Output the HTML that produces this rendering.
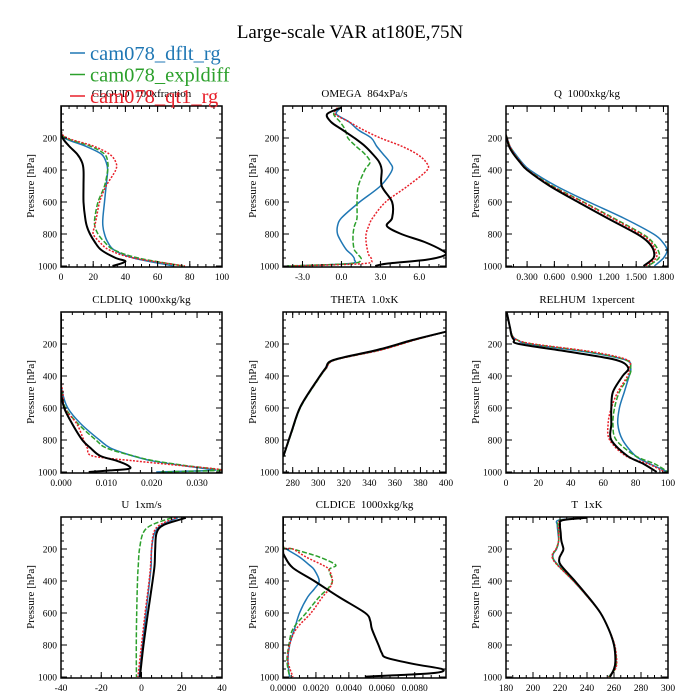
<!DOCTYPE html>
<html><head><meta charset="utf-8">
<style>
body{margin:0;background:#fff;}
svg{display:block;font-family:"Liberation Serif",serif;}
</style></head>
<body>
<svg id="chart" width="700" height="700" viewBox="0 0 700 700">
<text x="350" y="38" font-size="19" text-anchor="middle">Large-scale VAR at180E,75N</text>
</svg>
<script>
// ---- data (pressure levels hPa, values) ----
const cloudLev=[5,150,200,250,300,350,400,500,600,700,750,800,850,900,950,1000];
const cloudBlackLev=[5,150,200,250,300,350,400,500,600,700,750,800,850,900,950,972,1000];
const cloudBlackVal=[0,0,1,5,10,13,14,14,14,15,16,18,21,25,34,40,32];
const cloudBlue=[0,0,2,15,25,28,29,28,27,26,26,27,29,33,45,70];
const cloudGreen=[0,0,3,18,27,29,29,27,23,21,21,23,27,33,48,76];
const cloudRed=[0,0,4,20,30,34,34,28,24,22,21,20,24,30,45,77];

const omegaLev=[10,50,100,150,200,250,300,350,400,500,600,700,750,800,850,900,930,960,985,1000];
const omegaBlack=[0,-1.1,-0.8,0.1,1.0,1.8,2.4,2.9,3.1,3.1,3.9,3.9,3.5,4.6,6.4,7.7,8.0,6.6,3.5,2.6];
const omegaBlue=[0,-0.4,0.6,1.3,2.3,2.7,3.2,3.7,3.9,3.0,1.4,0.0,-0.3,-0.3,0.0,0.4,0.8,1.0,0.6,-3.9];
const omegaGreen=[-0.2,-0.6,-0.1,0.3,0.5,1.1,1.8,2.2,1.8,1.3,1.2,1.2,1.0,0.9,0.9,1.0,1.3,1.5,0.7,-4.2];
const omegaRed=[-0.3,-0.5,0.6,1.7,3.0,4.6,5.8,6.5,6.6,5.1,3.4,2.4,2.1,1.9,1.9,2.0,2.1,2.3,1.7,-3.9];

const qLev=[10,100,200,250,300,350,400,500,600,700,800,850,900,950,1000];
const qBlack=[0,0.02,0.075,0.1,0.15,0.22,0.30,0.55,0.86,1.18,1.51,1.63,1.69,1.69,1.58];
const qBlue=[0,0.02,0.08,0.11,0.17,0.24,0.33,0.62,0.98,1.36,1.69,1.79,1.84,1.80,1.70];
const qGreen=[0,0.02,0.08,0.11,0.16,0.23,0.31,0.58,0.92,1.25,1.57,1.68,1.74,1.75,1.63];
const qRed=[0,0.02,0.08,0.11,0.16,0.23,0.31,0.57,0.91,1.23,1.55,1.66,1.71,1.72,1.60];

const liqLev=[10,400,500,600,700,800,850,900,930,960,980,990,1000];
const liqBlack=[0,0,0,0.0007,0.0025,0.0047,0.0065,0.0087,0.0123,0.0148,0.0150,0.0109,0.0061];
const liqBlue=[0,0,0.0003,0.0015,0.0044,0.0085,0.0109,0.0159,0.0200,0.0270,0.0320,0.0334,0.0210];
const liqGreen=[0,0,0.0002,0.0010,0.0038,0.0077,0.0100,0.0160,0.0205,0.0275,0.0335,0.0350,0.0220];
const liqRed=[0,0,0.0004,0.0008,0.0035,0.0050,0.0058,0.0070,0.0160,0.0265,0.0340,0.0355,0.0360];

const thetaLev=[123,175,237,300,352,425,592,750,904];
const thetaBlack=[400,373.8,346.4,311.9,305.7,299.2,286,279,272.6];
const thetaBlue=[400,375,348.5,312.8,306.2,299.6,286.3,279.2,272.7];
const thetaGreen=[400,375.3,349,313,306.3,299.7,286.4,279.3,272.8];
const thetaRed=[400,375.6,349.5,313.2,306.2,299.5,286.2,279.1,272.6];

const rhLev=[5,50,100,150,175,200,250,300,350,400,500,600,700,800,900,950,1000];
const rhBlack=[0.5,1.5,2.5,3.5,5,8,40,68,75.5,72,66,65,65,65,75,85,93];
const rhBlue=[0.5,1.5,2.5,4,7,14,50,74,77,76,73,70,69,72,80,89,100];
const rhGreen=[0.5,1.5,2.5,4,7,16,52,74,77,76,70,67,66,68,80,92,100];
const rhRed=[0.5,1.5,2.5,4,7,17,54,75,76,75,69,65,63,64,74,88,98];

const uLev=[5,50,100,200,300,400,600,800,1000];
const uBlack=[22,11,7.5,6.8,6.5,5.5,3.2,1,-0.8];
const uBlue=[18,10,6.5,5,4.8,4,2.2,0.5,-1.2];
const uGreen=[15,5,0.8,-1.0,-1.6,-2.0,-2.4,-2.6,-2.5];
const uRed=[17,9,6,5,4.5,3.8,1.8,0,-1.8];

const iceLev=[5,180,200,250,300,330,400,450,500,600,700,800,900,1000];
const iceBlue=[0,0,0.0002,0.0010,0.0016,0.0019,0.0022,0.0019,0.0015,0.0010,0.0007,0.0004,0.0003,0.0004];
const iceGreen=[0,0,0.0006,0.0022,0.0032,0.0028,0.0030,0.0027,0.0022,0.0014,0.0006,0.00036,0.00024,0.0004];
const iceRed=[0,0,0.0006,0.0014,0.0024,0.0028,0.0030,0.0028,0.0024,0.0017,0.0008,0.0004,0.0003,0.0006];
const iceBlackLev=[5,200,245,318,400,500,600,650,700,800,850,880,920,952,977,998];
const iceBlack=[0,0,0.0001,0.0006,0.0019,0.0034,0.0050,0.0053,0.0054,0.0058,0.0060,0.0063,0.0080,0.0097,0.0090,0.0050];

const tLev=[5,20,50,100,150,200,230,260,300,400,500,600,700,800,900,950,1000];
const tBlack=[240,222,220,220.5,221,222.5,221,219.5,220.5,231,241,250,256,260,261,260,257];
const tBlue=[237,219,218,218.5,219,217.5,215,215,218.5,230,240.5,250,256,260,261.5,260.5,256];
const tGreen=[238,220,218.5,219,219,217.2,214.8,214.8,218.2,230,240.5,250,256,260.3,261.8,260.8,256];
const tRed=[238,221,219,219,219,217,214.5,214.5,218,230,240.5,250,256,260.5,262,261,256];

const yTickLabels=[200,400,600,800,1000];

const svg=document.getElementById('chart');
const NS='http://www.w3.org/2000/svg';
const COLORS={blue:'#1f77b4',green:'#2ca02c',red:'#e8202a',black:'#000'};
function mk(tag,attrs,parent){const e=document.createElementNS(NS,tag);for(const k in attrs)e.setAttribute(k,attrs[k]);(parent||svg).appendChild(e);return e;}
function smoothPath(pts){
  let d='M'+pts[0][0].toFixed(1)+','+pts[0][1].toFixed(1);
  for(let i=0;i<pts.length-1;i++){
    const p0=pts[Math.max(0,i-1)],p1=pts[i],p2=pts[i+1],p3=pts[Math.min(pts.length-1,i+2)];
    const t=0.16;
    const c1=[p1[0]+(p2[0]-p0[0])*t,p1[1]+(p2[1]-p0[1])*t];
    const c2=[p2[0]-(p3[0]-p1[0])*t,p2[1]-(p3[1]-p1[1])*t];
    d+='C'+c1[0].toFixed(1)+','+c1[1].toFixed(1)+' '+c2[0].toFixed(1)+','+c2[1].toFixed(1)+' '+p2[0].toFixed(1)+','+p2[1].toFixed(1);
  }
  return d;
}

const cols=[[61,222],[283,446],[506,668]];
const rows=[106,312,517];
let pid=0;
function panel(c,r,title,xmin,xmax,ticks,tickLbls,minorStep,series,name){
  const x0=cols[c][0],x1=cols[c][1],top=rows[r],bot=top+161;
  const sx=v=>x0+(v-xmin)/(xmax-xmin)*(x1-x0);
  const sy=p=>top+p*0.16;
  const g=mk('g',{});
  
  
  const t=mk('text',{x:(x0+x1)/2,y:top-9,'font-size':11,'text-anchor':'middle'},g);
  t.textContent=title;
  
  
  const id='clip'+(pid++);
  const cp=mk('clipPath',{id:id},g);mk('rect',{x:x0,y:top,width:x1-x0,height:bot-top},cp);
  const sg=mk('g',{'clip-path':'url(#'+id+')'},g);
  series.forEach(s=>{
    const pts=s.lev.map((p,i)=>[sx(s.val[i]),sy(p)]);
    const pa=mk('path',{d:smoothPath(pts),fill:'none',stroke:COLORS[s.color],'stroke-width':s.color==='black'?2:1.5,'stroke-dasharray':s.dash||'none','stroke-linejoin':'round'},sg);
    
    
  });
  const fr=mk('rect',{x:x0,y:top,width:x1-x0,height:bot-top,fill:'none',stroke:'#000','stroke-width':1.5},g);
  
  
  for(let p=50;p<=1000;p+=50){
    const maj=p%200===0,L=maj?6:3;
    mk('line',{x1:x0,x2:x0+L,y1:sy(p),y2:sy(p),stroke:'#000','stroke-width':1},g);
    mk('line',{x1:x1,x2:x1-L,y1:sy(p),y2:sy(p),stroke:'#000','stroke-width':1},g);
  }
  yTickLabels.forEach(p=>{
    const tl=mk('text',{x:x0-4,y:sy(p)+3.5,'font-size':9.5,'text-anchor':'end'},g);
    tl.textContent=p;
    
    
  });
  const yt=mk('text',{transform:'translate('+(x0-27)+','+(top+80)+') rotate(-90)','font-size':11,'text-anchor':'middle'},g);
  yt.textContent='Pressure [hPa]';
  
  
  const start=Math.ceil(xmin/minorStep-1e-6)*minorStep;
  for(let v=start;v<=xmax+1e-9;v+=minorStep){
    mk('line',{x1:sx(v),x2:sx(v),y1:bot,y2:bot-3,stroke:'#000','stroke-width':1},g);
    mk('line',{x1:sx(v),x2:sx(v),y1:top,y2:top+3,stroke:'#000','stroke-width':1},g);
  }
  ticks.forEach((v,i)=>{
    mk('line',{x1:sx(v),x2:sx(v),y1:bot,y2:bot-6,stroke:'#000','stroke-width':1},g);
    mk('line',{x1:sx(v),x2:sx(v),y1:top,y2:top+6,stroke:'#000','stroke-width':1},g);
    const tl=mk('text',{x:sx(v),y:bot+13,'font-size':9.5,'text-anchor':'middle'},g);
    tl.textContent=tickLbls[i];
    
    
  });
}
const RD='2,1.5',GD='5,2';
function S(lev,b,bl,gr,rd,blackLev){return [
  {lev:lev,val:bl,color:'blue'},{lev:lev,val:gr,color:'green',dash:GD},{lev:lev,val:rd,color:'red',dash:RD},{lev:blackLev||lev,val:b,color:'black'}];}
const SP='\u00a0\u00a0';
panel(0,0,'CLOUD'+SP+'100xfraction',0,100,[0,20,40,60,80,100],['0','20','40','60','80','100'],5,S(cloudLev,cloudBlackVal,cloudBlue,cloudGreen,cloudRed,cloudBlackLev),'cloud');
panel(1,0,'OMEGA'+SP+'864xPa/s',-4.5,8.05,[-3,0,3,6],['-3.0','0.0','3.0','6.0'],0.75,S(omegaLev,omegaBlack,omegaBlue,omegaGreen,omegaRed),'omega');
panel(2,0,'Q'+SP+'1000xkg/kg',0.068,1.85,[0.3,0.6,0.9,1.2,1.5,1.8],['0.300','0.600','0.900','1.200','1.500','1.800'],0.15,S(qLev,qBlack,qBlue,qGreen,qRed),'q');
panel(0,1,'CLDLIQ'+SP+'1000xkg/kg',0,0.0355,[0,0.01,0.02,0.03],['0.000','0.010','0.020','0.030'],0.0025,S(liqLev,liqBlack,liqBlue,liqGreen,liqRed),'cldliq');
panel(1,1,'THETA'+SP+'1.0xK',272.4,400,[280,300,320,340,360,380,400],['280','300','320','340','360','380','400'],5,S(thetaLev,thetaBlack,thetaBlue,thetaGreen,thetaRed),'theta');
panel(2,1,'RELHUM'+SP+'1xpercent',0,100,[0,20,40,60,80,100],['0','20','40','60','80','100'],5,S(rhLev,rhBlack,rhBlue,rhGreen,rhRed),'relhum');
panel(0,2,'U'+SP+'1xm/s',-40,40,[-40,-20,0,20,40],['-40','-20','0','20','40'],5,S(uLev,uBlack,uBlue,uGreen,uRed),'u');
panel(1,2,'CLDICE'+SP+'1000xkg/kg',0,0.0099,[0,0.002,0.004,0.006,0.008],['0.0000','0.0020','0.0040','0.0060','0.0080'],0.0005,S(iceLev,iceBlack,iceBlue,iceGreen,iceRed,iceBlackLev),'cldice');
panel(2,2,'T'+SP+'1xK',180,300,[180,200,220,240,260,280,300],['180','200','220','240','260','280','300'],5,S(tLev,tBlack,tBlue,tGreen,tRed),'t');

const legendNames=['cam078_dflt_rg','cam078_expldiff','cam078_qt1_rg'];
const legendColors=['blue','green','red'];
legendNames.forEach((n,i)=>{
  const y=53+i*21.5;
  const ln=mk('line',{x1:70,x2:85,y1:y,y2:y,stroke:COLORS[legendColors[i]],'stroke-width':1.5});
  
  
  const tx=mk('text',{x:90,y:y+7,'font-size':20.5,fill:COLORS[legendColors[i]]});
  tx.textContent=n;
  
  
});
</script>
</body></html>
